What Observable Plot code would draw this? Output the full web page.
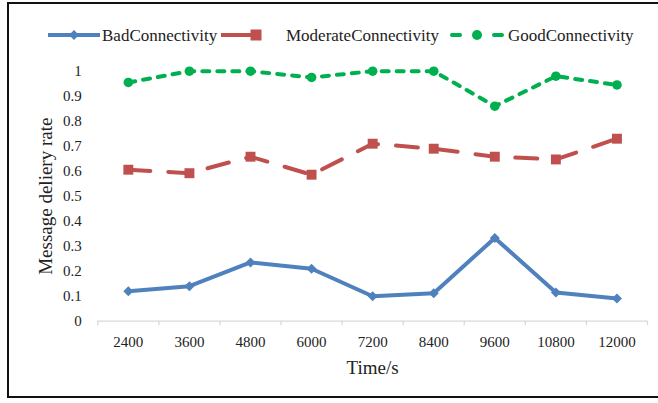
<!DOCTYPE html>
<html>
<head>
<meta charset="utf-8">
<script src="https://cdn.jsdelivr.net/npm/d3@7"></script>
<script src="https://cdn.jsdelivr.net/npm/@observablehq/plot@0.6"></script>
<style>
  html, body { margin: 0; padding: 0; background: #fff; }
  #wrap { position: relative; width: 658px; height: 403px; overflow: hidden; background: #fff;
          font-family: 'Liberation Serif', 'Times New Roman', serif; }
  #border { position: absolute; left: 7px; top: 2px; width: 720px; height: 392px; border: 2px solid #111; pointer-events: none; }
  #legend { display: block; height: 50px; }
  #legend svg, #chart svg { display: block; }
</style>
</head>
<body>
<div id="wrap">
  <div id="legend"></div>
  <div id="chart"></div>
  <div id="border"></div>
</div>
<script>
// ---- data ----
const categories = ["2400", "3600", "4800", "6000", "7200", "8400", "9600", "10800", "12000"];
const badConnectivity = [0.12, 0.14, 0.235, 0.21, 0.10, 0.112, 0.333, 0.115, 0.091];
const moderateConnectivity = [0.606, 0.592, 0.658, 0.586, 0.71, 0.69, 0.658, 0.647, 0.73];
const goodConnectivity = [0.955, 1.0, 1.0, 0.975, 1.0, 1.0, 0.86, 0.98, 0.945];
const seriesNames = ["BadConnectivity", "ModerateConnectivity", "GoodConnectivity"];
const yTicks = [0, 0.1, 0.2, 0.3, 0.4, 0.5, 0.6, 0.7, 0.8, 0.9, 1];
const xTitle = "Time/s";
const yTitle = "Message deliery rate";

const colors = {blue: "#4F81BD", red: "#C0504D", green: "#00B050"};
const font = "'Liberation Serif', 'Times New Roman', serif";

const rows = (arr) => arr.map((v, i) => ({i, c: categories[i], v}));
const bad = rows(badConnectivity);
const mod = rows(moderateConnectivity);
const good = rows(goodConnectivity);

const bounds = d3.range(categories.length + 1).map(i => i - 0.5);

const chart = Plot.plot({
  width: 658,
  height: 353,
  marginLeft: 97.3,
  marginRight: 11,
  marginTop: 20.7,
  marginBottom: 82.3,
  style: {fontFamily: font, fontSize: "15px", color: "#222", background: "transparent"},
  x: {type: "linear", domain: [-0.5, categories.length - 0.5]},
  y: {domain: [0, 1]},
  marks: [
    Plot.axisY(yTicks, {tickSize: 0, tickPadding: 16, tickFormat: d => d3.format("~g")(d), label: null, fontSize: 15}),
    Plot.ruleY([0], {stroke: "#d9d9d9", strokeWidth: 1.3}),
    Plot.axisX(bounds, {tickSize: 4.5, tickFormat: () => "", stroke: "#d9d9d9", strokeWidth: 1.3, label: null}),
    Plot.axisX(categories.map((c, i) => i), {tickSize: 0, tickPadding: 15, tickFormat: i => categories[i], label: null, fontSize: 15}),
    Plot.text([yTitle], {frameAnchor: "left", textAnchor: "middle", lineAnchor: "middle", rotate: -90, dx: -52.3, fontSize: 19, fill: "#222"}),
    Plot.text([xTitle], {frameAnchor: "bottom", textAnchor: "middle", lineAnchor: "middle", dy: 46.3, fontSize: 19, fill: "#222"}),
    Plot.line(bad, {x: "i", y: "v", stroke: colors.blue, strokeWidth: 4, strokeLinejoin: "round", strokeLinecap: "round"}),
    Plot.line(mod, {x: "i", y: "v", stroke: colors.red, strokeWidth: 4, strokeDasharray: "22,18", strokeLinejoin: "round", strokeLinecap: "round"}),
    Plot.line(good, {x: "i", y: "v", stroke: colors.green, strokeWidth: 4, strokeDasharray: "7,8", strokeLinejoin: "round", strokeLinecap: "round"}),
    Plot.dot(bad, {x: "i", y: "v", symbol: "square", r: 4, rotate: 45, fill: colors.blue, stroke: null}),
    Plot.dot(mod, {x: "i", y: "v", symbol: "square", r: 5.6, fill: colors.red, stroke: null}),
    Plot.dot(good, {x: "i", y: "v", symbol: "circle", r: 4.8, fill: colors.green, stroke: null})
  ]
});
document.getElementById("chart").appendChild(chart);

// ---- legend ----
const lg = d3.select("#legend").append("svg")
  .attr("width", 658).attr("height", 50)
  .attr("font-family", font).attr("font-size", 17);
const ly = 35;
const addText = (x, t) => lg.append("text").attr("x", x).attr("y", ly).attr("dy", "0.33em")
  .attr("fill", "#222").attr("font-family", font).attr("font-size", 17).text(t);
// Bad
lg.append("line").attr("x1", 48).attr("x2", 100).attr("y1", ly).attr("y2", ly)
  .attr("stroke", colors.blue).attr("stroke-width", 4);
lg.append("rect").attr("x", 74 - 3.5).attr("y", ly - 3.5).attr("width", 7).attr("height", 7)
  .attr("fill", colors.blue).attr("transform", `rotate(45 74 ${ly})`);
addText(102, seriesNames[0]);
// Moderate
lg.append("line").attr("x1", 221).attr("x2", 256).attr("y1", ly).attr("y2", ly)
  .attr("stroke", colors.red).attr("stroke-width", 4);
lg.append("rect").attr("x", 256 - 5.5).attr("y", ly - 5.5).attr("width", 11).attr("height", 11)
  .attr("fill", colors.red);
addText(286, seriesNames[1]);
// Good
lg.append("line").attr("x1", 452).attr("x2", 460).attr("y1", ly).attr("y2", ly)
  .attr("stroke", colors.green).attr("stroke-width", 4).attr("stroke-linecap", "round");
lg.append("line").attr("x1", 494).attr("x2", 502).attr("y1", ly).attr("y2", ly)
  .attr("stroke", colors.green).attr("stroke-width", 4).attr("stroke-linecap", "round");
lg.append("circle").attr("cx", 477).attr("cy", ly).attr("r", 5).attr("fill", colors.green);
addText(508, seriesNames[2]);
</script>
</body>
</html>
